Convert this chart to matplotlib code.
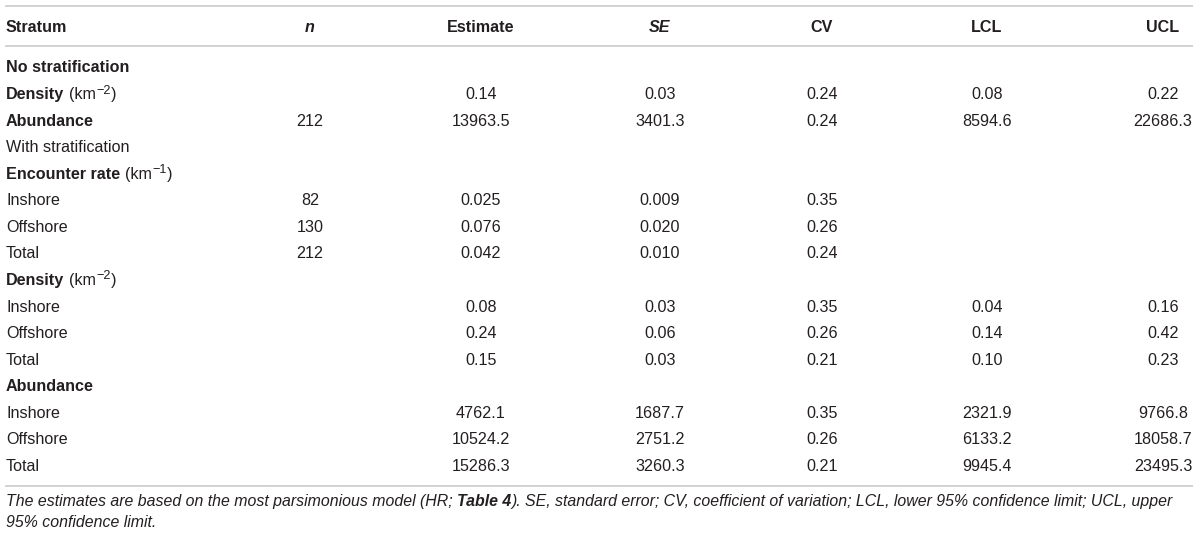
import matplotlib
matplotlib.use("Agg")
import matplotlib.pyplot as plt

plt.rcParams['font.family'] = ['Liberation Sans', 'DejaVu Sans']

# ---------------- data ----------------
headers = ["Stratum", "n", "Estimate", "SE", "CV", "LCL", "UCL"]
header_italic = [False, True, False, True, False, False, False]

row_labels = ["No stratification", "Density", "Abundance", "With stratification",
              "Encounter rate", "Inshore", "Offshore", "Total",
              "Density", "Inshore", "Offshore", "Total",
              "Abundance", "Inshore", "Offshore", "Total"]
row_unit_exp = ["", "\u22122", "", "", "\u22121", "", "", "",
                "\u22122", "", "", "", "", "", "", ""]
row_bold = [True, True, True, False, True, False, False, False,
            True, False, False, False, True, False, False, False]

n_vals = ["", "", "212", "", "", "82", "130", "212", "", "", "", "", "", "", "", ""]
estimate = ["", "0.14", "13963.5", "", "", "0.025", "0.076", "0.042",
            "", "0.08", "0.24", "0.15", "", "4762.1", "10524.2", "15286.3"]
se = ["", "0.03", "3401.3", "", "", "0.009", "0.020", "0.010",
      "", "0.03", "0.06", "0.03", "", "1687.7", "2751.2", "3260.3"]
cv = ["", "0.24", "0.24", "", "", "0.35", "0.26", "0.24",
      "", "0.35", "0.26", "0.21", "", "0.35", "0.26", "0.21"]
lcl = ["", "0.08", "8594.6", "", "", "", "", "",
       "", "0.04", "0.14", "0.10", "", "2321.9", "6133.2", "9945.4"]
ucl = ["", "0.22", "22686.3", "", "", "", "", "",
       "", "0.16", "0.42", "0.23", "", "9766.8", "18058.7", "23495.3"]

caption_line1 = [("The estimates are based on the most parsimonious model (HR; ", 'normal'),
                 ("Table 4", 'bold'),
                 ("). SE, standard error; CV, coefficient of variation; LCL, lower 95% confidence limit; UCL, upper", 'normal')]
caption_line2 = [("95% confidence limit.", 'normal')]

# ---------------- layout ----------------
W, H = 1200, 535
fig = plt.figure(figsize=(W / 100, H / 100), dpi=100)
ax = fig.add_axes([0, 0, 1, 1])
ax.set_xlim(0, W)
ax.set_ylim(H, 0)
ax.axis('off')

TXT = '#231f20'
RULE = '#d2d2d2'
FS = 11.6
CAP_FS = 11.45
left = 6
col_x = [None, 310, 481, 660, 822, 987, 1163]
header_base = 31.7
row_base0 = 72.5
row_step = 26.56

renderer = fig.canvas.get_renderer()


def seq_text(x, y, segments, fontsize, **kw):
    """segments: (text, weight, raise_px, size_scale, gap_before_px)"""
    for seg in segments:
        s, weight = seg[0], seg[1]
        dy = seg[2] if len(seg) > 2 else 0
        sc = seg[3] if len(seg) > 3 else 1.0
        gap = seg[4] if len(seg) > 4 else 0
        x += gap
        t = ax.text(x, y - dy, s, fontweight=weight, fontsize=fontsize * sc,
                    va='baseline', ha='left', **kw)
        bb = t.get_window_extent(renderer=renderer)
        x += bb.width
    return x


# rules
ax.hlines([6, 46, 486], 5, 1193, color=RULE, lw=1.4)

# header
ax.text(left, header_base, headers[0], fontsize=FS, fontweight='bold',
        color=TXT, va='baseline', ha='left')
for j in range(1, len(headers)):
    ax.text(col_x[j], header_base, headers[j], fontsize=FS, fontweight='bold',
            fontstyle='italic' if header_italic[j] else 'normal',
            color=TXT, va='baseline', ha='center')

# rows
cols = [n_vals, estimate, se, cv, lcl, ucl]
for i, lab in enumerate(row_labels):
    y = row_base0 + row_step * i
    segs = [(lab, 'bold' if row_bold[i] else 'normal')]
    if row_unit_exp[i]:
        segs += [("(km", 'normal', 0, 1.0, 4.5),
                 (row_unit_exp[i], 'normal', 5.5, 0.78, 0.5),
                 (")", 'normal', 0, 1.0, 0.5)]
    seq_text(left, y, segs, FS, color=TXT)
    for j, col in enumerate(cols):
        if col[i]:
            ax.text(col_x[j + 1], y, col[i], fontsize=FS, color=TXT,
                    va='baseline', ha='center')

# caption
seq_text(left, 505.7, caption_line1, CAP_FS, color=TXT, fontstyle='italic')
seq_text(left, 527.3, caption_line2, CAP_FS, color=TXT, fontstyle='italic')

fig.savefig('out.png', dpi=100, facecolor='white')
